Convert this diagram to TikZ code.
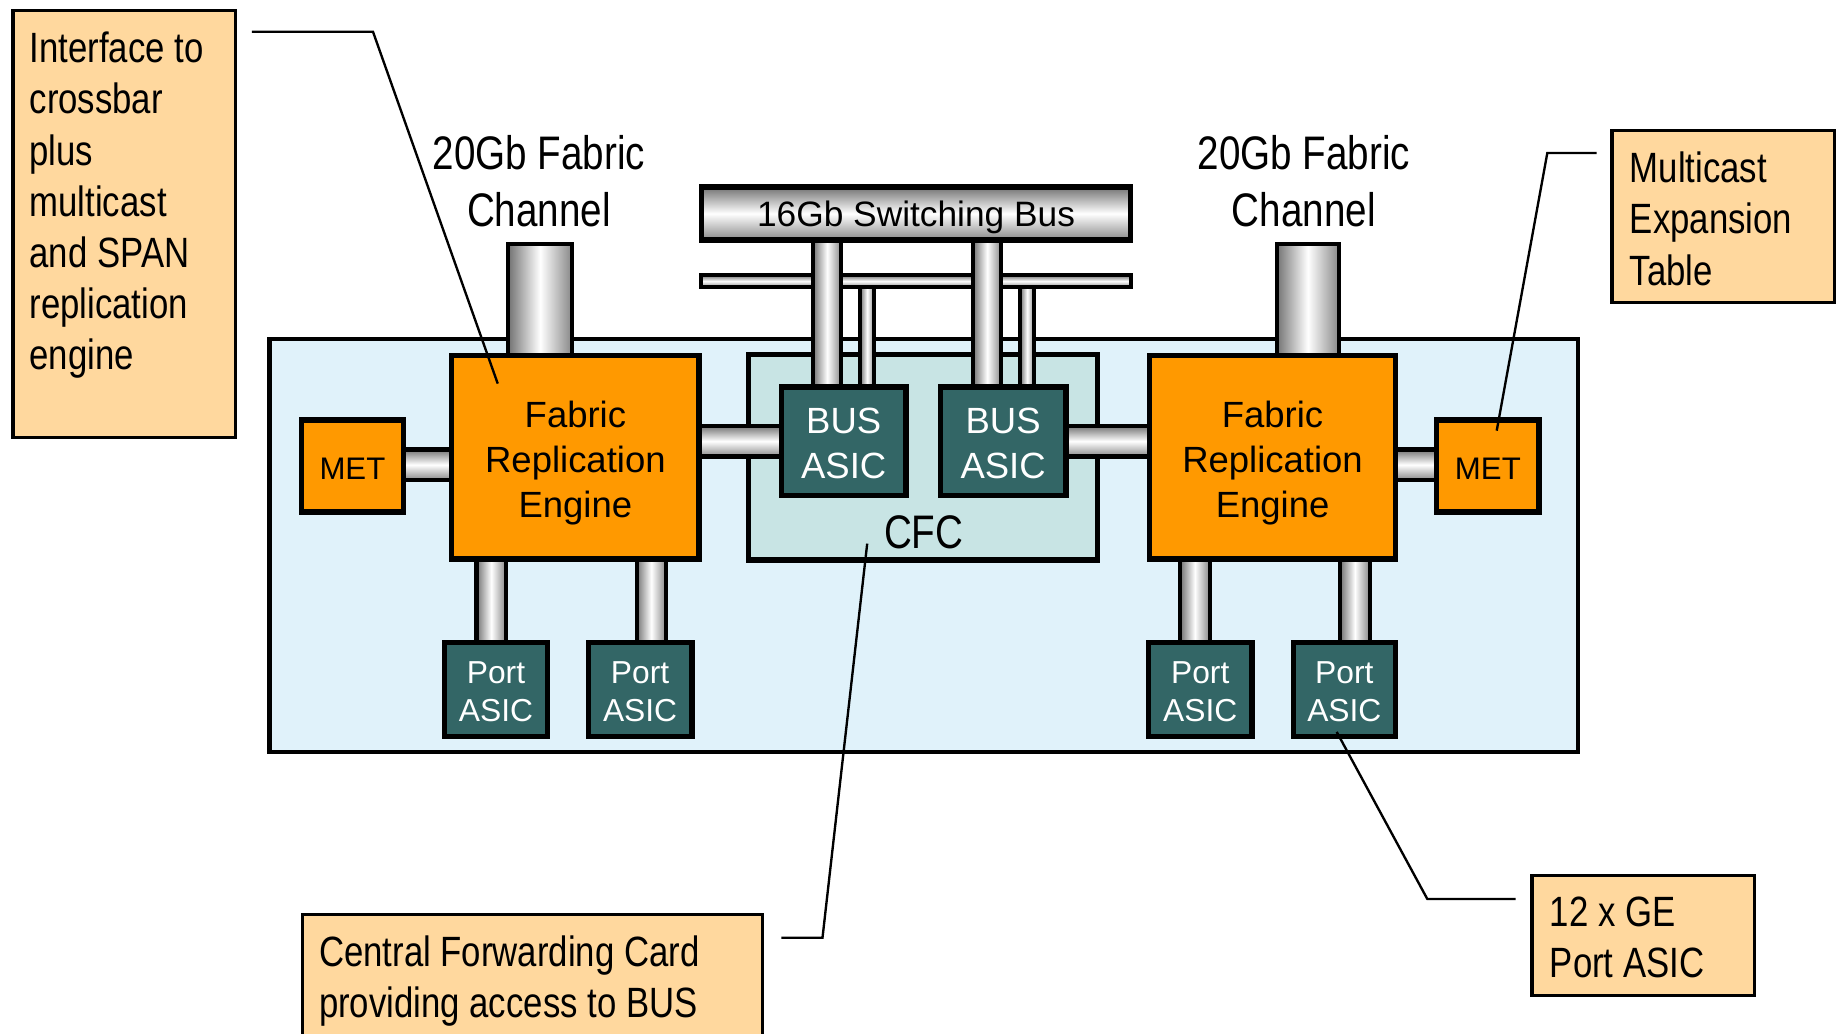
\documentclass[tikz,border=0pt]{standalone}
\usepackage{fontspec}
\setmainfont{Liberation Sans}
\newfontfamily\narrowfont[FakeStretch=0.82]{Liberation Sans}
\usetikzlibrary{fit}

\definecolor{peach}{RGB}{255,216,158}
\definecolor{boardblue}{RGB}{224,242,250}
\definecolor{cfcgreen}{RGB}{200,228,228}
\definecolor{asicteal}{RGB}{51,102,102}
\definecolor{freorange}{RGB}{255,153,0}
\definecolor{pipegray}{RGB}{115,115,115}
\newcommand\setfs[2]{\fontsize{#1}{#2}\selectfont}

\tikzset{
  blk/.style={draw=black, line width=4.5pt, inner sep=0pt},
  frebox/.style={blk, fill=freorange},
  asic/.style={blk, fill=asicteal},
  lbl/.style={inner sep=0pt, align=center},
  whitelbl/.style={lbl, text=white},
  callbox/.style={draw=black, line width=3pt, fill=peach, inner sep=0pt},
  calltext/.style={anchor=north west, inner sep=0pt, align=left, font=\narrowfont\setfs{36}{43.5}},
  vpipe/.style={draw=black, line width=3.5pt, left color=pipegray, right color=pipegray!85, middle color=white},
  hpipe/.style={draw=black, line width=3.5pt, top color=pipegray, bottom color=pipegray!85, middle color=white},
  lead/.style={draw=black, line width=2pt},
}

\begin{document}
\begin{tikzpicture}[x=1pt,y=-1pt]
\useasboundingbox (0,0) rectangle (1568,878);
\clip (0,0) rectangle (1568,878);
\fill[white] (0,0) rectangle (1568,878);

% line card and central forwarding card
\node[blk, line width=3.5pt, fill=boardblue, fit={(229,288) (1341,639)}] (board) {};
\node[blk, fill=cfcgreen, fit={(636,301) (933,476)}] (cfc) {};

% thin pipes hanging from the second bus rail
\path[vpipe] (731,240) rectangle (743,330);
\path[vpipe] (867,240) rectangle (879,330);
\node[blk, line width=3.5pt, top color=pipegray, bottom color=pipegray!85, middle color=white,
      fit={(596,234) (961,244)}] (rail) {};

% thick pipes from the switching bus
\path[vpipe] (691,200) rectangle (715,330);
\path[vpipe] (827,200) rectangle (851,330);

% fabric channels
\path[vpipe] (432,207) rectangle (486,305);
\path[vpipe] (1085,207) rectangle (1138,305);

% horizontal links
\path[hpipe] (340,382) rectangle (387,408);
\path[hpipe] (590,362) rectangle (667,388);
\path[hpipe] (903,362) rectangle (980,388);
\path[hpipe] (1183,382) rectangle (1224,408);

% links down to the port ASICs
\path[vpipe] (405,472) rectangle (430,549);
\path[vpipe] (541,472) rectangle (566,549);
\path[vpipe] (1003,472) rectangle (1028,549);
\path[vpipe] (1139,472) rectangle (1164,549);

% switching bus
\node[blk, top color=pipegray, bottom color=pipegray!85, middle color=white,
      fit={(596,159) (961,204)}] (bus) {};
\node[lbl, font=\setfs{30}{36}] (bust) at ([yshift=-3pt]bus.center) {16Gb Switching Bus};

% ASICs and engines
\node[asic, fit={(664,329) (770,421)}] (busA) {};
\node[asic, fit={(799,329) (906,421)}] (busB) {};
\node[frebox, fit={(384,302) (594,475)}] (fre1) {};
\node[frebox, fit={(977,302) (1186,475)}] (fre2) {};
\node[frebox, fit={(256,357) (343,435)}] (met1) {};
\node[frebox, fit={(1221,357) (1308,435)}] (met2) {};
\node[asic, fit={(378,546) (465,626)}] (pa1) {};
\node[asic, fit={(500,546) (588,626)}] (pa2) {};
\node[asic, fit={(976,546) (1064,626)}] (pa3) {};
\node[asic, fit={(1099,546) (1186,626)}] (pa4) {};

\foreach \b in {busA,busB}
  \node[whitelbl, font=\setfs{31}{38}] (\b t) at ([yshift=-2pt]\b.center) {BUS\\ASIC};
\foreach \f in {fre1,fre2}
  \node[lbl, font=\setfs{31}{38}] (\f t) at ([yshift=-5pt]\f.center) {Fabric\\Replication\\Engine};
\foreach \m in {met1,met2}
  \node[lbl, font=\setfs{26.5}{32}] (\m t) at ([yshift=-2pt]\m.center) {MET};
\foreach \p in {pa1,pa2,pa3,pa4}
  \node[whitelbl, font=\setfs{27}{32}] (\p t) at ([yshift=-2pt]\p.center) {Port\\ASIC};

\node[lbl, font=\narrowfont\setfs{40}{48}] (cfclabel) at (785,452) {CFC};
\node[lbl, font=\narrowfont\setfs{40}{48}] (chL) at (458,154) {20Gb Fabric\\Channel};
\node[lbl, font=\narrowfont\setfs{40}{48}] (chR) at (1108,154) {20Gb Fabric\\Channel};

% callouts
\node[callbox, fit={(11,9) (200,372)}] (callL) {};
\node[calltext] (callLt) at (25,27) {Interface to\\crossbar\\plus\\multicast\\and SPAN\\replication\\engine};
\node[callbox, fit={(1370,111) (1559,257)}] (callM) {};
\node[calltext] (callMt) at (1385,129) {Multicast\\Expansion\\Table};
\node[callbox, fit={(257,777) (648,900)}] (callC) {};
\node[calltext] (callCt) at (271,795) {Central Forwarding Card\\providing access to BUS};
\node[callbox, fit={(1302,744) (1491,846)}] (callG) {};
\node[calltext] (callGt) at (1317,762) {12 x GE\\Port ASIC};

% leader lines
\coordinate (lLa) at (214,27);  \coordinate (lLb) at (317,27);  \coordinate (lLc) at (423,326);
\coordinate (lMa) at (1357,130); \coordinate (lMb) at (1315,130); \coordinate (lMc) at (1272,366);
\coordinate (lCa) at (664,797); \coordinate (lCb) at (699,797); \coordinate (lCc) at (737,462);
\coordinate (lGa) at (1288,764); \coordinate (lGb) at (1213,764); \coordinate (lGc) at (1136,622);
\draw[lead] (lLa) -- (lLb) -- (lLc);
\draw[lead] (lMa) -- (lMb) -- (lMc);
\draw[lead] (lCa) -- (lCb) -- (lCc);
\draw[lead] (lGa) -- (lGb) -- (lGc);
\end{tikzpicture}
\end{document}
